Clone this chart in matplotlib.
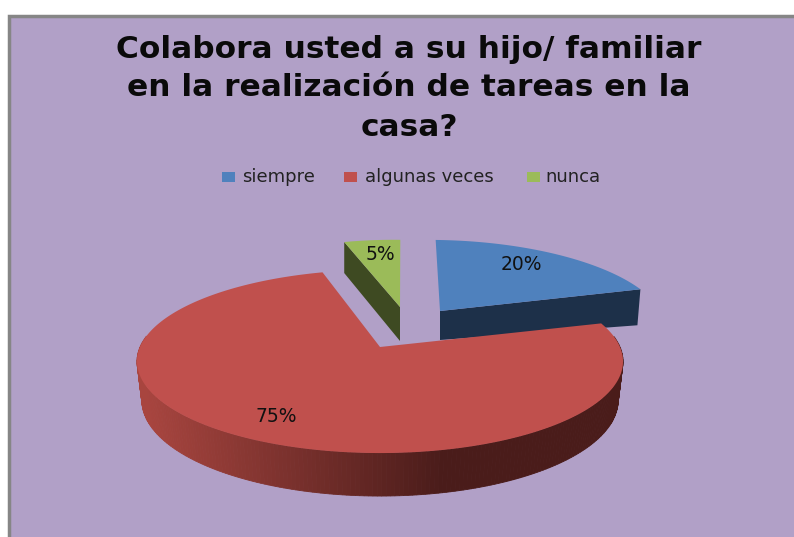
import numpy as np
import matplotlib
matplotlib.use('Agg')
import matplotlib.pyplot as plt
from matplotlib.patches import Polygon, Rectangle
from matplotlib.colors import to_rgb

categories = ['siempre', 'algunas veces', 'nunca']
values = [20, 75, 5]
top_colors = ['#4F81BD', '#C0504D', '#9BBB59']
title_lines = ['Colabora usted a su hijo/ familiar',
               'en la realización de tareas en la',
               'casa?']

W, H = 794, 537
start_angle = 88.0
R, RT, K = 240.0, 89.4, 0.157   # disc radius, squashed radius, perspective

# apex in pixels, wedge scale, sideways lean, label position
apex = [(440, 311), (380, 347), (400, 307)]
scale = [0.92, 1.0, 0.87]
lean = [-11, 0, -6]
label_pos = [(521, 265), (276, 417), (380, 254)]

fig = plt.figure(figsize=(W / 100, H / 100), dpi=100, facecolor='white')
ax = fig.add_axes([0, 0, 1, 1])
ax.set_xlim(0, W)
ax.set_ylim(H, 0)
ax.axis('off')

ax.add_patch(Rectangle((8.5, 15.5), W, H, fc='#B1A0C7', ec='#868686', lw=2.5))


def project(theta, center, s, shear):
    # points on a tilted disc, seen with a bit of perspective
    u, v = np.cos(theta), np.sin(theta)
    d = 1 + K * v
    return center[0] + s * R * u / d + shear * v, center[1] - s * RT * v / d


# wedge limits, clockwise from the start angle
shares = np.array(values) / sum(values) * 360
ends = start_angle - np.cumsum(shares)
starts = ends + shares
arcs = [np.radians(np.linspace(a, b, 300)) for a, b in zip(starts, ends)]

# blue: cut face below the right edge
x, y = project(arcs[0], apex[0], scale[0], lean[0])
ax.add_patch(Polygon([(apex[0][0], apex[0][1]), (x[-1], y[-1]),
                      (x[-1] - 3, y[-1] + 36), (apex[0][0], apex[0][1] + 29)],
                     fc='#1D3049', ec='none'))
ax.add_patch(Polygon(np.r_[[apex[0]], np.c_[x, y]], fc=top_colors[0], ec='none'))

# green: cut face below the left edge
x, y = project(arcs[2], apex[2], scale[2], lean[2])
ax.add_patch(Polygon([(x[0], y[0]), (apex[2][0], apex[2][1]),
                      (apex[2][0], apex[2][1] + 34), (x[0], y[0] + 31)],
                     fc='#3E4A22', ec='none'))
ax.add_patch(Polygon(np.r_[[apex[2]], np.c_[x, y]], fc=top_colors[2], ec='none'))

# red: rim drawn as strips, light on the left, dark on the right
x, y = project(arcs[1], apex[1], scale[1], lean[1])
v = np.sin(arcs[1])
xb = apex[1][0] + (x - apex[1][0]) * 0.98
yb = y + 38 - 5 * v
light, dark = np.array(to_rgb('#A8453F')), np.array(to_rgb('#4A1C1A'))
for i in range(len(x) - 1):
    if v[i] > 0.12 and v[i + 1] > 0.12:
        continue
    t = np.clip((x[i] - 145) / 300, 0, 1)
    c = light + (dark - light) * t
    ax.add_patch(Polygon([(x[i], y[i]), (x[i + 1], y[i + 1]),
                          (xb[i + 1], yb[i + 1]), (xb[i], yb[i])],
                         fc=c, ec=c, lw=0.6))
ax.add_patch(Polygon(np.r_[[apex[1]], np.c_[x, y]], fc=top_colors[1], ec='none'))

for pos, val in zip(label_pos, values):
    ax.text(pos[0], pos[1], f'{val}%', fontsize=13.5, ha='center', va='center',
            color='#111111', family='DejaVu Sans')

for ty, line in zip([49, 88, 128], title_lines):
    ax.text(409, ty, line, fontsize=22.5, fontweight='bold', ha='center', va='center',
            color='#0a0a0a', family='DejaVu Sans')

# legend
for sx, tx, name, col in zip([222, 344, 527], [242, 365, 545], categories, top_colors):
    ax.add_patch(Rectangle((sx, 172), 13, 10, fc=col, ec='none'))
    ax.text(tx, 177.5, name, fontsize=13, va='center', ha='left',
            color='#222222', family='DejaVu Sans')

fig.savefig('out.png', dpi=100, facecolor='white')
